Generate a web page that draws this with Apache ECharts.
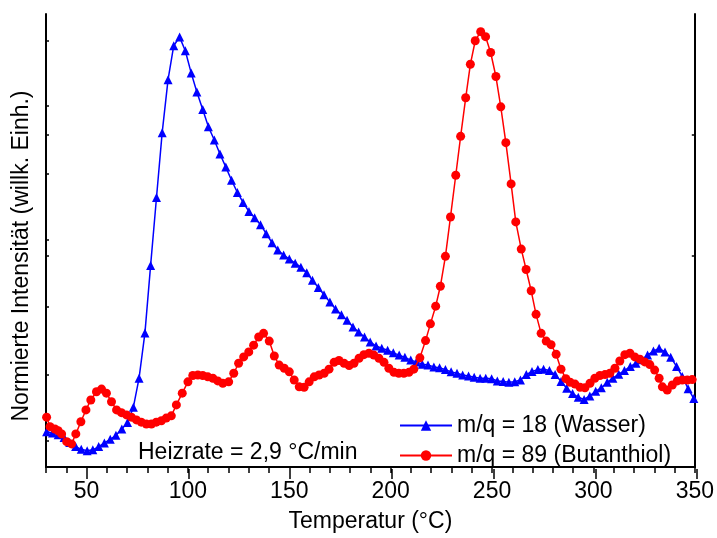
<!DOCTYPE html>
<html>
<head>
<meta charset="utf-8">
<script src="https://cdn.jsdelivr.net/npm/echarts@6/dist/echarts.min.js"></script>
<style>
html,body{margin:0;padding:0;background:#fff;}
#chart{width:717px;height:538px;}
</style>
</head>
<body>
<div id="chart"></div>
<script>
// ---- Data (temperature in °C, normalized intensity in % of plot height) ----
const blueName = 'm/q = 18 (Wasser)';
const redName = 'm/q = 89 (Butanthiol)';

const blueTemp = [30.3,33.2,36.0,38.9,41.7,44.6,47.4,50.3,53.1,56.0,
  58.8,61.7,64.5,67.4,70.2,73.1,75.9,78.8,81.6,84.5,
  87.3,90.2,93.0,95.9,98.7,101.6,104.4,107.3,110.1,113.0,
  115.8,118.7,121.5,124.4,127.2,130.1,132.9,135.8,138.6,141.5,
  144.3,147.2,150.0,152.9,155.7,158.6,161.4,164.3,167.1,170.0,
  172.8,175.7,178.5,181.4,184.2,187.1,189.9,192.8,195.6,198.5,
  201.3,204.2,207.0,209.9,212.7,215.6,218.4,221.3,224.1,227.0,
  229.8,232.7,235.5,238.4,241.2,244.1,246.9,249.8,252.6,255.5,
  258.3,261.2,264.0,266.9,269.7,272.6,275.4,278.3,281.1,284.0,
  286.8,289.7,292.5,295.4,298.2,301.1,303.9,306.8,309.6,312.5,
  315.3,318.2,321.0,323.9,326.7,329.6,332.4,335.3,338.1,341.0,
  343.8,346.7,349.5];
const blueInt = [7.8,7.5,7.1,6.5,5.4,4.5,3.9,3.6,3.8,4.5,
  5.3,6.1,7.0,8.4,9.8,13.2,19.6,29.6,44.5,59.5,
  73.8,85.5,93.0,94.9,91.9,87.0,82.8,78.9,75.1,72.2,
  69.1,66.2,63.3,60.6,58.4,56.4,55.0,53.5,51.5,49.5,
  47.9,46.8,45.9,45.0,44.1,42.9,41.2,39.6,38.0,36.4,
  34.9,33.6,32.4,30.9,29.8,28.7,27.6,26.7,26.2,25.8,
  25.2,24.7,24.2,23.6,23.2,22.7,22.5,22.1,21.9,21.5,
  21.0,20.7,20.3,20.1,19.8,19.6,19.6,19.5,19.0,18.9,
  18.7,18.8,19.2,20.4,21.1,21.5,21.6,21.3,20.4,18.9,
  17.4,16.2,15.4,14.9,15.7,16.7,17.5,18.7,19.6,20.5,
  21.3,22.2,22.9,23.7,24.7,25.6,26.2,25.4,24.2,22.2,
  20.0,17.3,15.1];

const redTemp = [30.3,32.0,34.4,36.0,37.7,40.2,42.6,44.7,47.2,49.7,
  52.1,54.9,57.4,59.8,62.3,64.8,67.2,69.7,72.1,74.6,
  77.0,79.5,82.0,84.4,86.9,89.3,91.8,94.3,97.2,100.0,
  102.4,104.9,107.3,109.8,112.3,114.7,117.2,120.1,122.6,125.0,
  127.5,130.0,132.4,134.9,137.3,140.1,142.6,145.0,147.5,150.0,
  152.4,154.9,157.3,159.8,162.3,164.7,167.2,169.6,172.1,174.5,
  177.0,179.5,181.9,184.4,186.8,189.3,191.7,194.2,196.7,199.1,
  201.6,204.0,206.5,209.0,211.4,214.4,217.2,219.6,222.2,224.5,
  227.0,229.5,232.1,234.5,237.0,239.3,241.7,244.4,246.8,249.3,
  251.9,254.3,256.8,259.4,261.7,264.4,266.8,269.3,271.7,274.2,
  276.7,279.1,281.6,284.0,286.4,288.5,290.9,293.4,295.8,298.3,
  300.7,303.2,305.7,308.1,310.6,313.0,315.5,318.0,320.4,322.9,
  325.3,327.8,330.2,332.4,334.0,336.4,338.9,341.4,343.8,346.3,
  348.7];
const redInt = [11.0,8.9,8.4,8.0,7.3,5.6,5.1,7.3,10.0,12.6,
  14.8,16.6,17.2,16.3,14.4,12.6,12.0,11.5,11.0,10.4,
  9.9,9.5,9.5,9.9,10.2,10.8,11.3,13.7,16.3,18.8,
  20.2,20.3,20.2,19.9,19.6,19.0,18.5,18.8,20.7,22.9,
  24.3,25.4,26.9,28.7,29.5,27.8,24.5,22.5,21.8,21.0,
  19.2,17.7,17.6,18.8,19.9,20.3,20.7,21.6,23.1,23.5,
  22.9,22.4,22.9,24.0,24.8,25.1,24.7,24.0,23.1,21.8,
  20.9,20.7,20.7,20.9,21.6,24.1,27.9,31.6,35.5,39.9,
  46.5,55.2,64.4,73.0,81.5,88.9,94.1,96.1,95.0,91.5,
  86.2,79.5,71.6,62.5,54.1,48.1,43.6,38.9,33.7,29.5,
  27.8,27.0,24.9,21.6,19.5,18.7,18.3,17.6,17.5,18.5,
  19.6,20.2,20.4,20.7,21.8,23.4,24.8,25.1,24.3,23.8,
  23.2,22.6,21.4,19.6,17.7,17.0,18.1,19.0,19.2,19.2,
  19.3];

// tick values
const xLabelValues = [50,100,150,200,250,300,350];
const leftTickValues = [5.7,20.4,35.4,46.6,50.1,64.8,73.4,79.7,94.1];
const rightTickValues = [20.0,46.6,73.3];

const FONT = '"Liberation Sans", Arial, sans-serif';
const zip = (xs, ys) => xs.map((x, i) => [x, ys[i]]);

const gridRect = {left: 46, right: 20, top: 14, bottom: 69};
const lineCol = '#000';

const chart = echarts.init(document.getElementById('chart'), null, {renderer: 'canvas'});
chart.setOption({
  animation: false,
  backgroundColor: '#fff',
  grid: [Object.assign({}, gridRect), Object.assign({}, gridRect)],
  xAxis: [
    {
      type: 'value', gridIndex: 0, position: 'bottom', min: 30, max: 350, interval: 10,
      axisLine: {show: true, lineStyle: {color: lineCol, width: 2}},
      axisTick: {show: true, inside: false, length: 6, lineStyle: {color: lineCol, width: 1.5}},
      axisLabel: {customValues: xLabelValues, fontSize: 23, color: '#000', fontFamily: FONT, margin: 13},
      splitLine: {show: false},
      name: 'Temperatur (°C)', nameLocation: 'middle', nameGap: 43,
      nameTextStyle: {fontSize: 23, color: '#000', fontFamily: FONT}
    },
    {
      type: 'value', gridIndex: 0, position: 'top', min: 30, max: 350, interval: 10,
      axisLine: {show: true, lineStyle: {color: lineCol, width: 2}},
      axisTick: {show: true, inside: true, length: 3, lineStyle: {color: lineCol, width: 1.5}},
      axisLabel: {show: false}, splitLine: {show: false}
    },
    {
      type: 'value', gridIndex: 1, position: 'bottom', min: 30, max: 350,
      axisLine: {show: false},
      axisTick: {show: true, inside: false, length: 10, customValues: xLabelValues, lineStyle: {color: lineCol, width: 1.5}},
      axisLabel: {show: false}, splitLine: {show: false}
    }
  ],
  yAxis: [
    {
      type: 'value', gridIndex: 0, position: 'left', min: 0, max: 100,
      axisLine: {show: true, lineStyle: {color: lineCol, width: 2}},
      axisTick: {show: true, inside: true, length: 3, customValues: leftTickValues, lineStyle: {color: lineCol, width: 1.5}},
      axisLabel: {show: false}, splitLine: {show: false}
    },
    {
      type: 'value', gridIndex: 0, position: 'right', min: 0, max: 100,
      axisLine: {show: true, lineStyle: {color: lineCol, width: 2}},
      axisTick: {show: true, inside: true, length: 3, customValues: rightTickValues, lineStyle: {color: lineCol, width: 1.5}},
      axisLabel: {show: false}, splitLine: {show: false}
    },
    {
      type: 'value', gridIndex: 1, min: 0, max: 100, show: false
    }
  ],
  legend: {
    orient: 'vertical', left: 394, top: 409, itemWidth: 52, itemHeight: 13, itemGap: 7,
    textStyle: {fontSize: 23, color: '#000', fontFamily: FONT},
    data: [blueName, redName]
  },
  graphic: [
    {
      type: 'text', left: 138, top: 441,
      style: {text: 'Heizrate = 2,9 °C/min', font: '23px ' + FONT, fill: '#000'}
    },
    {
      type: 'text', x: 22, y: 256, rotation: Math.PI / 2,
      style: {text: 'Normierte Intensität (willk. Einh.)', font: '23px ' + FONT, fill: '#000',
        align: 'center', verticalAlign: 'middle'}
    }
  ],
  series: [
    {
      name: blueName, type: 'line', xAxisIndex: 0, yAxisIndex: 0,
      data: zip(blueTemp, blueInt),
      symbol: 'triangle', symbolSize: 9, showSymbol: true,
      lineStyle: {color: '#0000ff', width: 1.5},
      itemStyle: {color: '#0000ff'},
      z: 2
    },
    {
      name: redName, type: 'line', xAxisIndex: 0, yAxisIndex: 0,
      data: zip(redTemp, redInt),
      symbol: 'circle', symbolSize: 9, showSymbol: true,
      lineStyle: {color: '#ff0000', width: 1.5},
      itemStyle: {color: '#ff0000'},
      z: 3
    }
  ]
});
</script>
</body>
</html>
